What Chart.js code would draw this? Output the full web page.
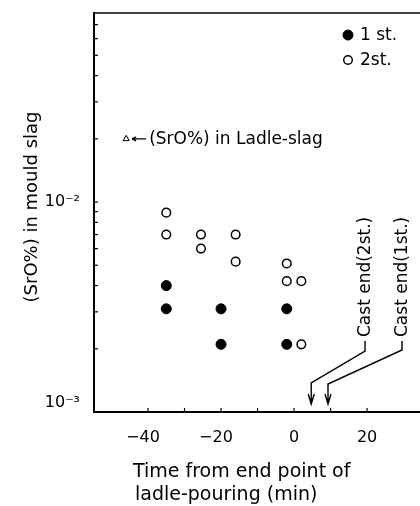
<!DOCTYPE html>
<html>
<head>
<meta charset="utf-8">
<script src="https://cdn.jsdelivr.net/npm/chart.js@4/dist/chart.umd.min.js"></script>
<style>
  body { margin: 0; background: #fff; }
  #wrap { width: 420px; height: 506px; }
</style>
</head>
<body>
<div id="wrap"><canvas id="srChart"></canvas></div>
<script>
// time from end of ladle pouring (min) and (SrO%) in mould slag
var firstX = [-35, -35, -20, -20, -2, -2];
var firstY = [0.0040, 0.0031, 0.0031, 0.0021, 0.0031, 0.0021];
var secondX = [-35, -35, -25.5, -25.5, -16, -16, -2, -2, 2, 2];
var secondY = [0.0089, 0.0070, 0.0070, 0.0060, 0.0070, 0.0052, 0.0051, 0.0042, 0.0042, 0.0021];
var ladleX = [-46];
var ladleY = [0.020];
var castEnd = [4.7, 9.3];            // 2st., 1st.
var castLabels = ['Cast end(2st.)', 'Cast end(1st.)'];
var seriesNames = ['1 st.', '2st.'];
var xTickLabels = [-40, -20, 0, 20];

var FONT = "'DejaVu Sans', sans-serif";

function pts(xs, ys) {
    return xs.map(function (x, i) { return { x: x, y: ys[i] }; });
}

var sup = { '-2': '10\u207B\u00B2', '-3': '10\u207B\u00B3' };

var extras = {
    id: 'extras',
    afterDraw: function (chart) {
        var ctx = chart.ctx;
        var xs = chart.scales.x, ys = chart.scales.y;
        var a = chart.chartArea;
        ctx.save();
        ctx.strokeStyle = '#000';
        ctx.fillStyle = '#000';

        // top frame line
        ctx.lineWidth = 1.5;
        ctx.beginPath();
        ctx.moveTo(a.left, a.top);
        ctx.lineTo(chart.width, a.top);
        ctx.stroke();

        // inner ticks
        ctx.lineWidth = 1.2;
        ys.ticks.forEach(function (t) {
            var py = ys.getPixelForValue(t.value);
            ctx.beginPath();
            ctx.moveTo(a.left, py);
            ctx.lineTo(a.left + 4, py);
            ctx.stroke();
        });
        xs.ticks.forEach(function (t) {
            var px = xs.getPixelForValue(t.value);
            ctx.beginPath();
            ctx.moveTo(px, a.bottom);
            ctx.lineTo(px, a.bottom - 4);
            ctx.stroke();
        });

        // y title
        ctx.save();
        ctx.translate(37, 207);
        ctx.rotate(-Math.PI / 2);
        ctx.font = '18px ' + FONT;
        ctx.textAlign = 'center';
        ctx.textBaseline = 'alphabetic';
        ctx.fillText('(SrO%) in mould slag', 0, 0);
        ctx.restore();

        // x title, left aligned two lines
        ctx.font = '19px ' + FONT;
        ctx.textAlign = 'left';
        ctx.textBaseline = 'alphabetic';
        ctx.fillText('Time from end point of', 133, 477);
        ctx.fillText('ladle-pouring (min)', 135, 500);

        // legend
        ctx.font = '17px ' + FONT;
        ctx.textBaseline = 'middle';
        chart.data.datasets.slice(0, 2).forEach(function (ds, i) {
            var ly = 35 + i * 25;
            ctx.beginPath();
            ctx.arc(348, ly, ds.pointRadius, 0, Math.PI * 2);
            ctx.fillStyle = ds.backgroundColor;
            ctx.fill();
            ctx.lineWidth = ds.borderWidth;
            ctx.strokeStyle = '#000';
            ctx.stroke();
            ctx.fillStyle = '#000';
            ctx.fillText(ds.label, 360, ly + 1);
        });

        // ladle slag note
        var lx = xs.getPixelForValue(ladleX[0]);
        var ly2 = ys.getPixelForValue(ladleY[0]);
        ctx.lineWidth = 1.3;
        ctx.beginPath();
        ctx.moveTo(lx + 20, ly2);
        ctx.lineTo(lx + 6, ly2);
        ctx.moveTo(lx + 6, ly2);
        ctx.lineTo(lx + 10, ly2 - 2);
        ctx.moveTo(lx + 6, ly2);
        ctx.lineTo(lx + 10, ly2 + 2);
        ctx.stroke();
        ctx.font = '17px ' + FONT;
        ctx.textBaseline = 'middle';
        ctx.fillText('(SrO%) in Ladle-slag', lx + 23, ly2 + 1);

        // cast end arrows
        var labelX = [370, 407];
        var stemX = [365, 402];
        castEnd.forEach(function (v, i) {
            ctx.save();
            ctx.translate(labelX[i], 337);
            ctx.rotate(-Math.PI / 2);
            ctx.font = '17px ' + FONT;
            ctx.textAlign = 'left';
            ctx.textBaseline = 'alphabetic';
            ctx.fillText(castLabels[i], 0, 0);
            ctx.restore();

            var px = xs.getPixelForValue(v);
            var tip = a.bottom - 8;
            ctx.lineWidth = 1.4;
            ctx.beginPath();
            ctx.moveTo(stemX[i], 341);
            ctx.lineTo(stemX[i], 351 - i);
            ctx.lineTo(px, 383 + i);
            ctx.lineTo(px, tip);
            ctx.moveTo(px - 3, tip - 10);
            ctx.lineTo(px, tip);
            ctx.lineTo(px + 3, tip - 10);
            ctx.stroke();
        });
        ctx.restore();
    }
};

var chart = new Chart(document.getElementById('srChart').getContext('2d'), {
    type: 'scatter',
    data: {
        datasets: [{
            label: seriesNames[0],
            data: pts(firstX, firstY),
            backgroundColor: '#000',
            borderColor: '#000',
            pointRadius: 5,
            borderWidth: 1
        }, {
            label: seriesNames[1],
            data: pts(secondX, secondY),
            backgroundColor: '#fff',
            borderColor: '#000',
            pointRadius: 4.3,
            borderWidth: 1.5
        }, {
            label: 'Ladle-slag',
            data: pts(ladleX, ladleY),
            pointStyle: 'triangle',
            backgroundColor: '#fff',
            borderColor: '#000',
            pointRadius: 3.5,
            borderWidth: 1
        }]
    },
    options: {
        responsive: true,
        maintainAspectRatio: false,
        animation: false,
        layout: {
            autoPadding: false,
            padding: { top: 13, right: 0, left: 0, bottom: 0 }
        },
        plugins: {
            legend: { display: false },
            tooltip: { enabled: false }
        },
        scales: {
            x: {
                type: 'linear',
                min: -54.8,
                max: 34.5,
                afterFit: function (s) {
                    s.height = 94;
                    s.paddingLeft = 0;
                    s.paddingRight = 0;
                },
                afterBuildTicks: function (s) {
                    s.ticks = s.ticks.filter(function (t) {
                        return t.value >= -40 && t.value <= 30 && t.value % 10 === 0;
                    });
                },
                grid: { display: false },
                border: { display: true, color: '#000', width: 2 },
                ticks: {
                    stepSize: 10,
                    autoSkip: false,
                    maxRotation: 0,
                    padding: 8,
                    color: '#000',
                    font: { family: FONT, size: 16 },
                    callback: function (v) {
                        if (xTickLabels.indexOf(v) < 0) return '';
                        return v < 0 ? '\u2212' + Math.abs(v) + '\u2007' : String(v);
                    }
                }
            },
            y: {
                type: 'logarithmic',
                min: 0.001,
                max: 0.0795,
                afterFit: function (s) {
                    s.width = 94;
                    s.paddingTop = 0;
                    s.paddingBottom = 0;
                },
                afterBuildTicks: function (s) {
                    s.ticks = s.ticks.filter(function (t) {
                        var e = Math.floor(Math.log10(t.value) + 1e-9);
                        var m = t.value / Math.pow(10, e);
                        return Math.abs(m - Math.round(m)) < 1e-6;
                    });
                },
                grid: { display: false },
                border: { display: true, color: '#000', width: 2 },
                ticks: {
                    autoSkip: false,
                    padding: 6,
                    color: '#000',
                    font: { family: FONT, size: 16 },
                    callback: function (v) {
                        var e = Math.round(Math.log10(v));
                        if (Math.abs(Math.log10(v) - e) > 1e-6) return '';
                        if (e === -3) return [sup['-3'], ''];
                        return sup[String(e)] || '';
                    }
                }
            }
        }
    },
    plugins: [extras]
});
</script>
</body>
</html>
